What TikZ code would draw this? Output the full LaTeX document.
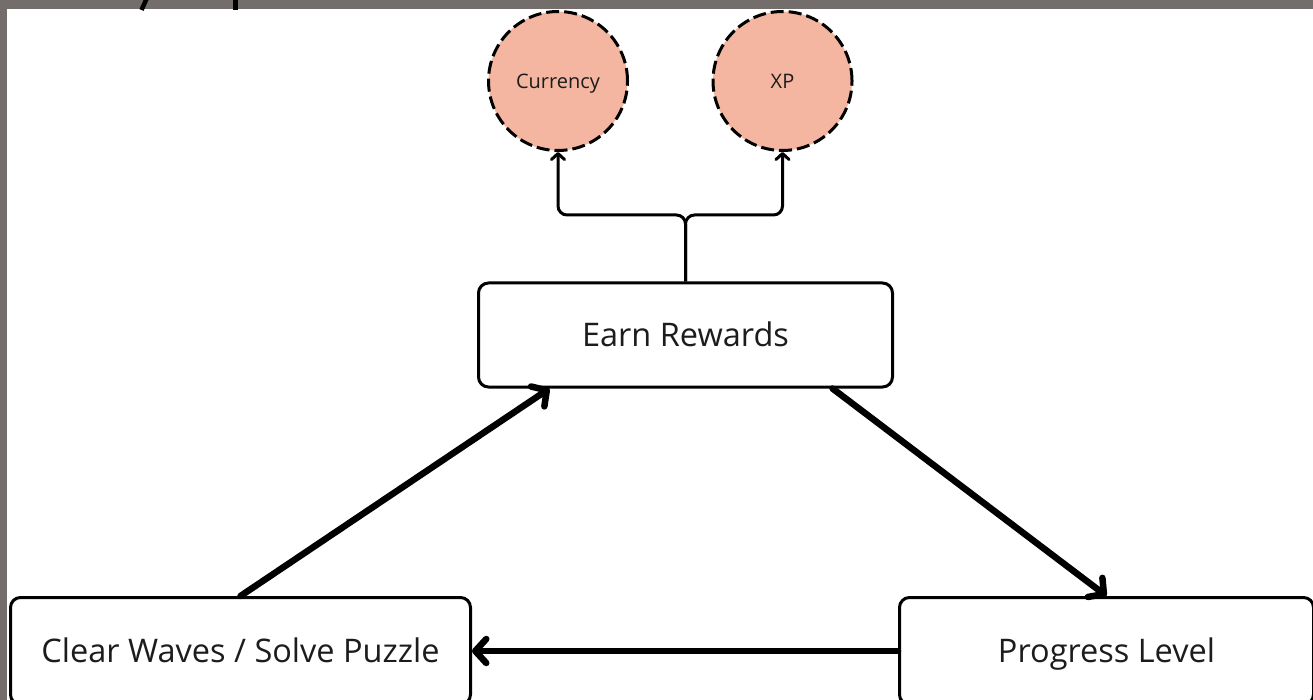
\documentclass[tikz,border=0pt]{standalone}
\usepackage{fontspec}
\setmainfont{Open Sans}
\usetikzlibrary{arrows.meta,calc}
\definecolor{frame}{HTML}{736E6C}
\definecolor{salmon}{HTML}{F4B6A0}
\definecolor{ink}{HTML}{1C1C1C}
\tikzset{
  stagebox/.style={draw=black, line width=3pt, rounded corners=10pt, fill=white,
    inner sep=0pt, text=ink, font=\fontsize{32.5}{38}\selectfont,
    text height=23.2pt, text depth=0pt},
  rewardball/.style={circle, draw=black, fill=salmon, line width=3pt,
    dash pattern=on 13pt off 5pt, minimum size=139pt, inner sep=0pt,
    text=ink, font=\fontsize{20}{24}\selectfont,
    text height=14.3pt, text depth=0pt},
  flowarrow/.style={line width=6.5pt, line cap=round,
    -{Straight Barb[length=11pt, width=24pt, round]}},
  branch/.style={line width=3pt, rounded corners=9pt,
    -{Straight Barb[length=6pt, width=13pt, round]}},
}
\begin{document}
\begin{tikzpicture}[x=1pt, y=-1pt]
  \useasboundingbox (0,0) rectangle (1313,700);
  \clip (0,0) rectangle (1313,700);
  \fill[white] (0,0) rectangle (1313,700);

  % outer frame strips with the clipped strokes above the canvas
  \fill[frame] (0,0) rectangle (1313,9);
  \fill[frame] (0,0) rectangle (7,700);
  \draw[line width=4.5pt] (141.5,10) -- (146.5,-1);
  \draw[line width=5pt] (235,-1) -- (235,10);

  % stages
  \node[stagebox, minimum width=414pt, minimum height=104pt] (er) at (685.5,335) {Earn Rewards};
  \node[stagebox, minimum width=460pt, minimum height=107pt] (cw) at (240.5,651) {Clear Waves / Solve Puzzle};
  \node[stagebox, minimum width=414pt, minimum height=107pt] (pl) at (1106.5,651) {Progress Level};

  % rewards
  \node[rewardball] (cur) at (558,81) {Currency};
  \node[rewardball] (xp) at (782.5,81) {XP};

  % reward fork
  \coordinate (fork) at (685.5,215);
  \draw[branch] (er.north) -- (fork) -| (cur.south);
  \draw[branch] (er.north) -- (fork) -| (xp.south);

  % loop
  \draw[flowarrow] (cw.north) -- ([xshift=-136pt]er.south);
  \draw[flowarrow] ([xshift=147pt]er.south) -- (pl.north);
  \draw[flowarrow] (pl.west) -- (cw.east);
\end{tikzpicture}
\end{document}
